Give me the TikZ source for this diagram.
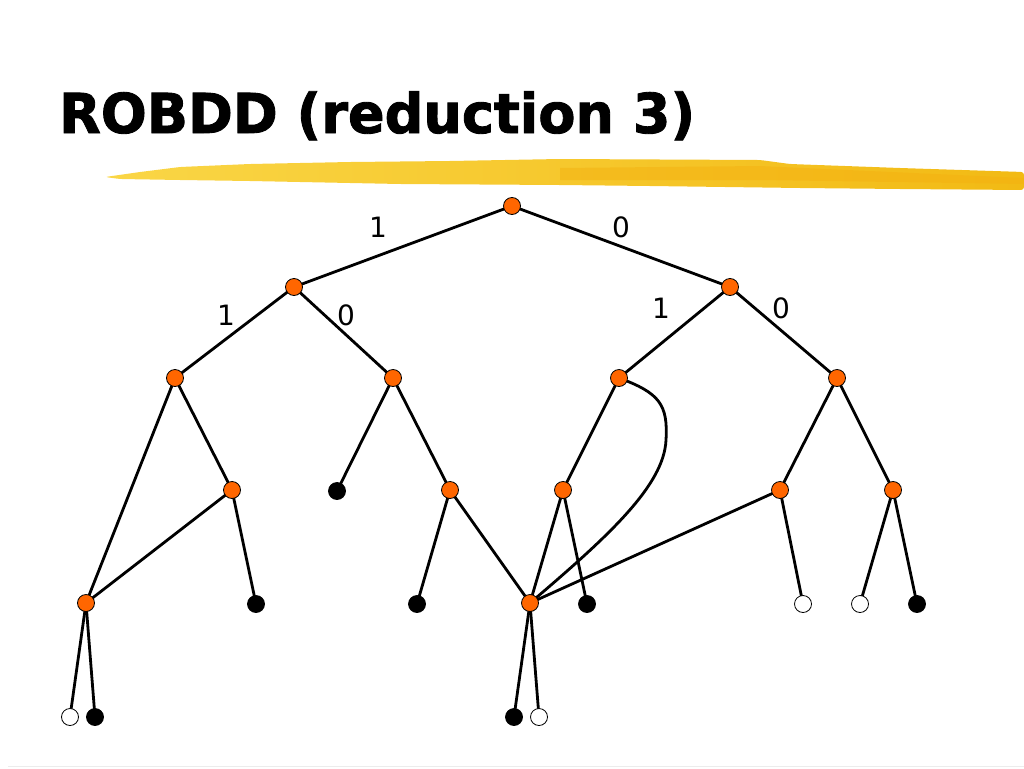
\documentclass[tikz,border=0pt]{standalone}
\usepackage{fontspec}
\usepackage{graphicx}
\setmainfont{DejaVu Sans}
\newfontfamily\titlefont[BoldFeatures={FakeBold=1.6}]{DejaVu Sans}
\usetikzlibrary{backgrounds}
\definecolor{nodeorange}{RGB}{255,102,0}
\definecolor{brushA}{RGB}{250,214,70}
\definecolor{brushB}{RGB}{242,186,20}
\tikzset{
  inner/.style={circle, draw=black, line width=0.8pt, fill=nodeorange, minimum size=17pt, inner sep=0pt},
  termone/.style={circle, draw=black, line width=0.8pt, fill=black, minimum size=17pt, inner sep=0pt},
  termzero/.style={circle, draw=black, line width=0.8pt, fill=white, minimum size=17pt, inner sep=0pt},
  edge/.style={line width=2.8pt, black},
  lbl/.style={font=\fontsize{28}{28}\selectfont, inner sep=0pt}
}
\begin{document}
\begin{tikzpicture}[x=1pt,y=-1pt]
\useasboundingbox (0,0) rectangle (1024,768);
% title
\node[anchor=base west, inner sep=0pt] (title) at (59,133)
  {\resizebox{636pt}{\height}{\fontsize{55}{55}\selectfont\titlefont\bfseries ROBDD (reduction 3)}};
% brush stroke
\shade[left color=brushA, right color=brushB, rounded corners=3pt]
  (105,177) -- (140,172) -- (180,167) -- (250,164) -- (350,162) -- (450,161)
  -- (560,159) -- (760,160) -- (790,164) -- (900,168) -- (1024,172)
  -- (1024,190) -- (900,189) -- (800,188) -- (650,186) -- (560,185)
  -- (400,184) -- (250,181) -- (180,180) -- (120,179) -- cycle;
\fill[brushB!85!orange, opacity=0.5] (560,168) -- (760,166) -- (1024,178) -- (1024,184) -- (760,180) -- (560,180) -- cycle;
% bottom rule
\draw[gray!15, line width=1pt] (8,766.5) -- (1024,766.5);
% nodes
\node[inner] (r) at (512,206) {};
\node[inner] (a) at (294,287) {};
\node[inner] (b) at (730,287) {};
\node[inner] (c) at (175,378) {};
\node[inner] (d) at (393,378) {};
\node[inner] (e) at (619,378) {};
\node[inner] (f) at (837,378) {};
\node[inner] (g) at (232,490) {};
\node[termone] (h) at (337,491) {};
\node[inner] (i) at (450,490) {};
\node[inner] (j) at (563,490) {};
\node[inner] (k) at (780,490) {};
\node[inner] (l) at (893,490) {};
\node[inner] (m) at (86,603) {};
\node[termone] (n) at (256,604) {};
\node[termone] (o) at (417,604) {};
\node[inner] (p) at (530,603) {};
\node[termone] (q) at (587,604) {};
\node[termzero] (s1) at (803,604) {};
\node[termzero] (s2) at (860,604) {};
\node[termone] (t) at (917,604) {};
\node[termzero] (u) at (70,717) {};
\node[termone] (v) at (95,717) {};
\node[termone] (w) at (514,717) {};
\node[termzero] (x) at (539,717) {};
% labels
\node[lbl] (l1) at (378,227) {1};
\node[lbl] (l2) at (621,227) {0};
\node[lbl] (l3) at (226,315) {1};
\node[lbl] (l4) at (346,315) {0};
\node[lbl] (l5) at (661,308) {1};
\node[lbl] (l6) at (781,308) {0};
% edges
\begin{scope}[on background layer]
\draw[edge] (r.center) -- (a.center);
\draw[edge] (r.center) -- (b.center);
\draw[edge] (a.center) -- (c.center);
\draw[edge] (a.center) -- (d.center);
\draw[edge] (b.center) -- (e.center);
\draw[edge] (b.center) -- (f.center);
\draw[edge] (c.center) -- (m.center);
\draw[edge] (c.center) -- (g.center);
\draw[edge] (g.center) -- (m.center);
\draw[edge] (g.center) -- (n.center);
\draw[edge] (d.center) -- (h.center);
\draw[edge] (d.center) -- (i.center);
\draw[edge] (i.center) -- (o.center);
\draw[edge] (i.center) -- (p.center);
\draw[edge] (e.center) -- (j.center);
\draw[edge] (e.center) .. controls (660,393) and (668,405) .. (666,440)
   .. controls (664,485) and (610,535) .. (p.center);
\draw[edge] (j.center) -- (p.center);
\draw[edge] (j.center) -- (q.center);
\draw[edge] (f.center) -- (k.center);
\draw[edge] (f.center) -- (l.center);
\draw[edge] (k.center) -- (p.center);
\draw[edge] (k.center) -- (s1.center);
\draw[edge] (l.center) -- (s2.center);
\draw[edge] (l.center) -- (t.center);
\draw[edge] (m.center) -- (u.center);
\draw[edge] (m.center) -- (v.center);
\draw[edge] (p.center) -- (w.center);
\draw[edge] (p.center) -- (x.center);
\end{scope}
\end{tikzpicture}
\end{document}
